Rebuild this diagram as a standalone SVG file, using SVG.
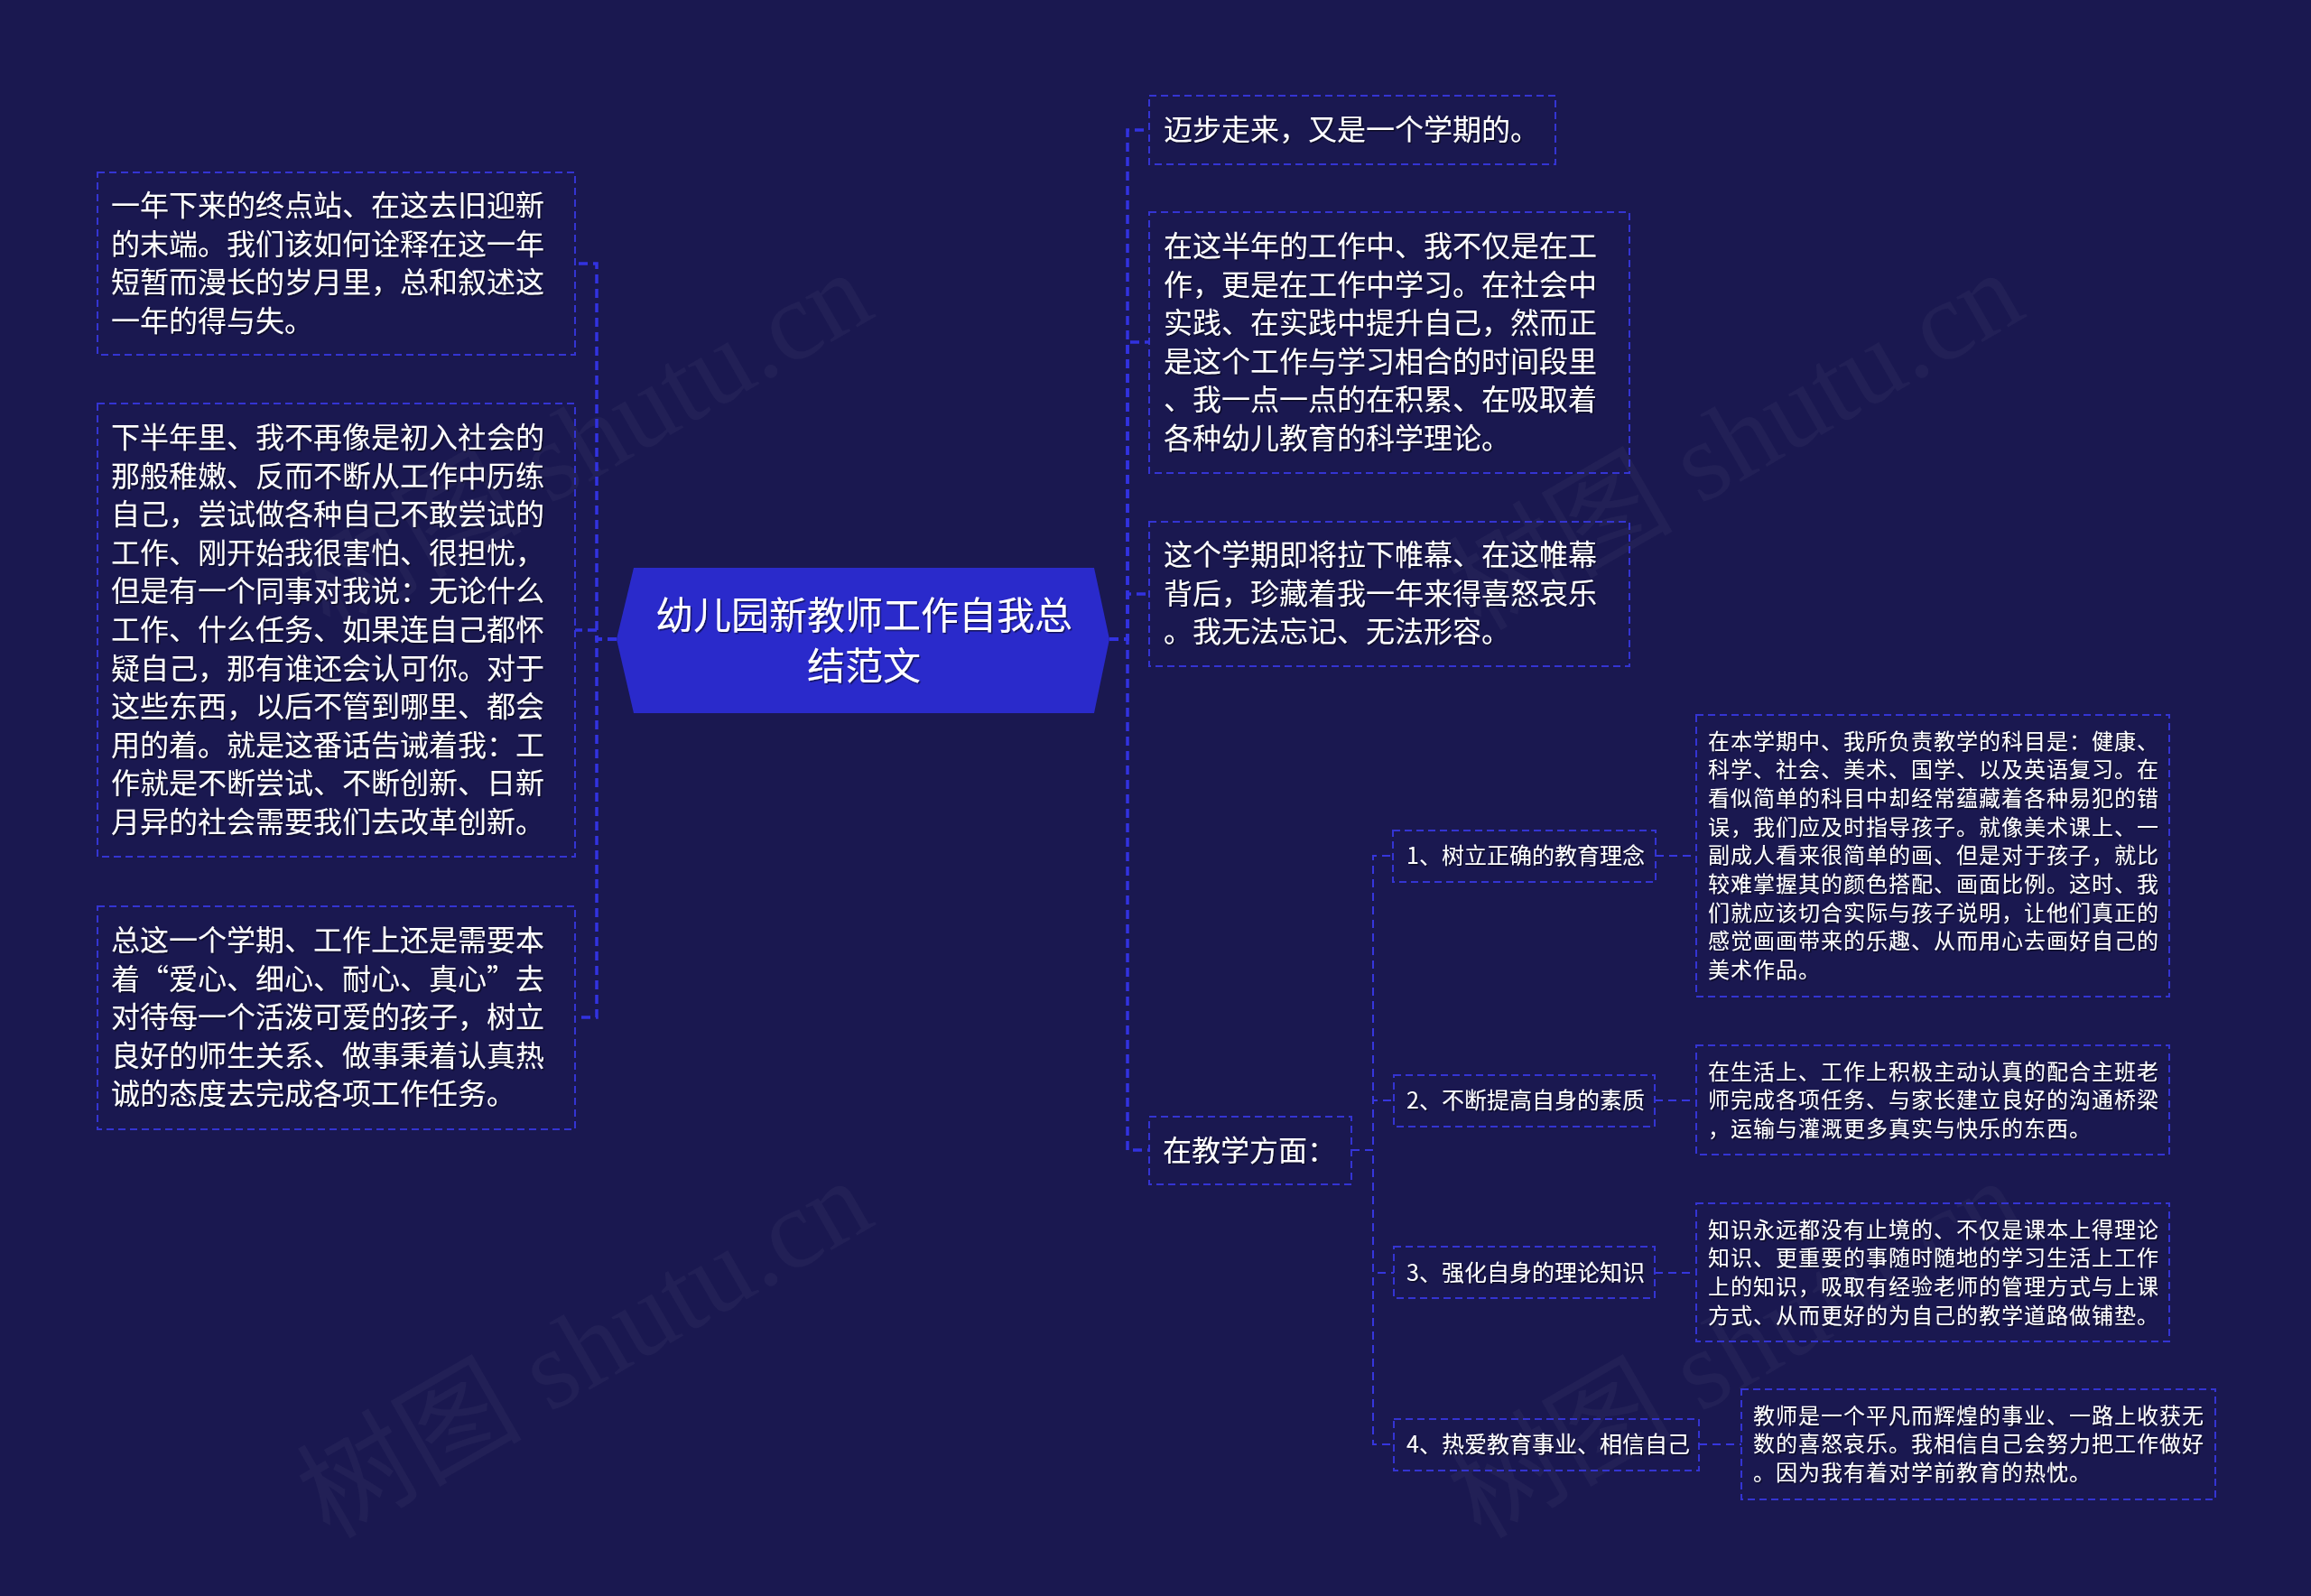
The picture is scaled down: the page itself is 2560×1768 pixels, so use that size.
<svg xmlns="http://www.w3.org/2000/svg" width="2560" height="1768" viewBox="0 0 2560 1768">
<defs>
<style>
.bg{fill:#1a1850}
.wm{font-family:"Liberation Serif","Noto Sans CJK SC",serif;font-size:125px;fill:#ffffff;fill-opacity:0.035}
.box{fill:none;stroke:#3434d2;stroke-width:2;stroke-dasharray:8 5}
.conn{fill:none;stroke:#3636dc;stroke-width:2;stroke-dasharray:9 6}
.trunk{fill:none;stroke:#3232e0;stroke-width:3.5;stroke-dasharray:10 6}
.t{font-family:"Noto Sans CJK SC","Noto Sans",sans-serif;fill:#ffffff;filter:url(#sh)}
.t32{font-size:32px}
.t42{font-size:42px}
.t26{font-size:25px}
.t24{font-size:24px;letter-spacing:1px}
.center{fill:#2a2acb}
</style>
<filter id="sh" x="-5%" y="-20%" width="110%" height="140%">
<feDropShadow dx="1.5" dy="1.5" stdDeviation="0.6" flood-color="#000000" flood-opacity="0.55"/>
</filter>
</defs>
<rect class="bg" x="0" y="0" width="2560" height="1768"/>
<g id="watermarks">
<text class="wm" x="365" y="700" transform="rotate(-30 365 700)">树图 shutu.cn</text>
<text class="wm" x="365" y="1706" transform="rotate(-30 365 1706)">树图 shutu.cn</text>
<text class="wm" x="1640" y="700" transform="rotate(-30 1640 700)">树图 shutu.cn</text>
<text class="wm" x="1640" y="1706" transform="rotate(-30 1640 1706)">树图 shutu.cn</text>
</g>
<g id="connectors">
<path class="trunk" d="M683 708 H661 V292 H637"/>
<path class="trunk" d="M683 708 H661 V698 H637"/>
<path class="trunk" d="M683 708 H661 V1127 H637"/>
<path class="trunk" d="M1229 708 H1249 V144 H1273"/>
<path class="trunk" d="M1229 708 H1249 V379 H1273"/>
<path class="trunk" d="M1229 708 H1249 V658 H1273"/>
<path class="trunk" d="M1229 708 H1249 V1274 H1273"/>
<path class="conn" d="M1497 1274 H1521 V948 H1543"/>
<path class="conn" d="M1497 1274 H1521 V1219 H1544"/>
<path class="conn" d="M1497 1274 H1521 V1410 H1544"/>
<path class="conn" d="M1497 1274 H1521 V1600 H1544"/>
<path class="conn" d="M1834 948 H1879"/>
<path class="conn" d="M1833 1219 H1879"/>
<path class="conn" d="M1833 1410 H1879"/>
<path class="conn" d="M1882 1600 H1929"/>
</g>
<g id="root">
<polygon class="center" points="683,708 702,629 1212,629 1229,708 1212,790 702,790"/>
<text class="t t42" text-anchor="middle"><tspan x="957" y="697">幼儿园新教师工作自我总</tspan><tspan x="957" y="753">结范文</tspan></text>
</g>
<g id="left1">
<rect class="box" x="108" y="191" width="529" height="202"/>
<text class="t t32"><tspan x="123" y="239">一年下来的终点站、在这去旧迎新</tspan><tspan x="123" y="282">的末端。我们该如何诠释在这一年</tspan><tspan x="123" y="324">短暂而漫长的岁月里，总和叙述这</tspan><tspan x="123" y="367">一年的得与失。</tspan></text>
</g>
<g id="left2">
<rect class="box" x="108" y="447" width="529" height="502"/>
<text class="t t32"><tspan x="123" y="496">下半年里、我不再像是初入社会的</tspan><tspan x="123" y="538.6">那般稚嫩、反而不断从工作中历练</tspan><tspan x="123" y="581.2">自己，尝试做各种自己不敢尝试的</tspan><tspan x="123" y="623.8">工作、刚开始我很害怕、很担忧，</tspan><tspan x="123" y="666.4">但是有一个同事对我说：无论什么</tspan><tspan x="123" y="709">工作、什么任务、如果连自己都怀</tspan><tspan x="123" y="751.6">疑自己，那有谁还会认可你。对于</tspan><tspan x="123" y="794.2">这些东西，以后不管到哪里、都会</tspan><tspan x="123" y="836.8">用的着。就是这番话告诫着我：工</tspan><tspan x="123" y="879.4">作就是不断尝试、不断创新、日新</tspan><tspan x="123" y="922">月异的社会需要我们去改革创新。</tspan></text>
</g>
<g id="left3">
<rect class="box" x="108" y="1004" width="529" height="247"/>
<text class="t t32"><tspan x="123" y="1053">总这一个学期、工作上还是需要本</tspan><tspan x="123" y="1095.6">着“爱心、细心、耐心、真心”去</tspan><tspan x="123" y="1138.2">对待每一个活泼可爱的孩子，树立</tspan><tspan x="123" y="1180.8">良好的师生关系、做事秉着认真热</tspan><tspan x="123" y="1223.4">诚的态度去完成各项工作任务。</tspan></text>
</g>
<g id="right1">
<rect class="box" x="1273" y="106" width="450" height="76"/>
<text class="t t32"><tspan x="1289" y="155">迈步走来，又是一个学期的。</tspan></text>
</g>
<g id="right2">
<rect class="box" x="1273" y="235" width="532" height="289"/>
<text class="t t32"><tspan x="1289" y="284">在这半年的工作中、我不仅是在工</tspan><tspan x="1289" y="326.6">作，更是在工作中学习。在社会中</tspan><tspan x="1289" y="369.2">实践、在实践中提升自己，然而正</tspan><tspan x="1289" y="411.8">是这个工作与学习相合的时间段里</tspan><tspan x="1289" y="454.4">、我一点一点的在积累、在吸取着</tspan><tspan x="1289" y="497">各种幼儿教育的科学理论。</tspan></text>
</g>
<g id="right3">
<rect class="box" x="1273" y="578" width="532" height="160"/>
<text class="t t32"><tspan x="1289" y="626">这个学期即将拉下帷幕、在这帷幕</tspan><tspan x="1289" y="668.6">背后，珍藏着我一年来得喜怒哀乐</tspan><tspan x="1289" y="711.2">。我无法忘记、无法形容。</tspan></text>
</g>
<g id="right4">
<rect class="box" x="1273" y="1237" width="224" height="75"/>
<text class="t t32"><tspan x="1288" y="1285.5">在教学方面：</tspan></text>
</g>
<g id="item1">
<rect class="box" x="1543" y="920" width="291" height="57"/>
<text class="t t26"><tspan x="1558" y="957">1、树立正确的教育理念</tspan></text>
</g>
<g id="detail1">
<rect class="box" x="1879" y="792" width="524" height="312"/>
<text class="t t24"><tspan x="1892" y="829.5">在本学期中、我所负责教学的科目是：健康、</tspan><tspan x="1892" y="861.2">科学、社会、美术、国学、以及英语复习。在</tspan><tspan x="1892" y="892.9">看似简单的科目中却经常蕴藏着各种易犯的错</tspan><tspan x="1892" y="924.6">误，我们应及时指导孩子。就像美术课上、一</tspan><tspan x="1892" y="956.3">副成人看来很简单的画、但是对于孩子，就比</tspan><tspan x="1892" y="988">较难掌握其的颜色搭配、画面比例。这时、我</tspan><tspan x="1892" y="1019.7">们就应该切合实际与孩子说明，让他们真正的</tspan><tspan x="1892" y="1051.4">感觉画画带来的乐趣、从而用心去画好自己的</tspan><tspan x="1892" y="1083.1">美术作品。</tspan></text>
</g>
<g id="item2">
<rect class="box" x="1544" y="1191" width="289" height="57"/>
<text class="t t26"><tspan x="1558" y="1228">2、不断提高自身的素质</tspan></text>
</g>
<g id="detail2">
<rect class="box" x="1879" y="1158" width="524" height="121"/>
<text class="t t24"><tspan x="1892" y="1195.5">在生活上、工作上积极主动认真的配合主班老</tspan><tspan x="1892" y="1227.2">师完成各项任务、与家长建立良好的沟通桥梁</tspan><tspan x="1892" y="1258.9">，运输与灌溉更多真实与快乐的东西。</tspan></text>
</g>
<g id="item3">
<rect class="box" x="1544" y="1381" width="289" height="57"/>
<text class="t t26"><tspan x="1558" y="1419">3、强化自身的理论知识</tspan></text>
</g>
<g id="detail3">
<rect class="box" x="1879" y="1333" width="524" height="153"/>
<text class="t t24"><tspan x="1892" y="1370.5">知识永远都没有止境的、不仅是课本上得理论</tspan><tspan x="1892" y="1402.2">知识、更重要的事随时随地的学习生活上工作</tspan><tspan x="1892" y="1433.9">上的知识，吸取有经验老师的管理方式与上课</tspan><tspan x="1892" y="1465.6">方式、从而更好的为自己的教学道路做铺垫。</tspan></text>
</g>
<g id="item4">
<rect class="box" x="1544" y="1572" width="338" height="57"/>
<text class="t t26"><tspan x="1558" y="1609">4、热爱教育事业、相信自己</tspan></text>
</g>
<g id="detail4">
<rect class="box" x="1929" y="1539" width="525" height="122"/>
<text class="t t24"><tspan x="1942" y="1576.5">教师是一个平凡而辉煌的事业、一路上收获无</tspan><tspan x="1942" y="1608.2">数的喜怒哀乐。我相信自己会努力把工作做好</tspan><tspan x="1942" y="1639.9">。因为我有着对学前教育的热忱。</tspan></text>
</g>
</svg>
